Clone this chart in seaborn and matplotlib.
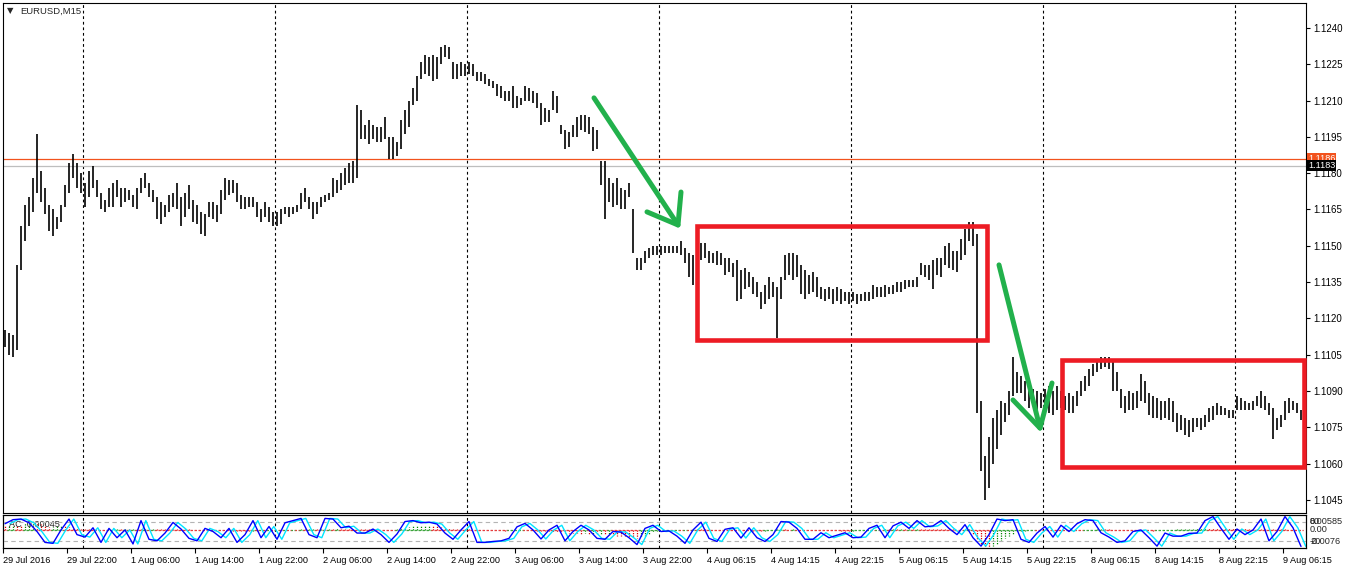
import numpy as np
import pandas as pd
import matplotlib
matplotlib.use('Agg')
import matplotlib.pyplot as plt
from matplotlib.patches import Rectangle
import seaborn as sns

# EURUSD bars, pips above 1.1000 (one bar drawn per 30 min)
bar_high = [115, 114, 113, 142, 158, 167, 170, 178, 196, 181,
            174, 167, 165, 162, 167, 175, 184, 188, 184, 180,
            176, 181, 183, 177, 172, 169, 174, 176, 177, 174,
            174, 173, 171, 174, 178, 180, 176, 173, 170, 168,
            167, 171, 172, 176, 170, 172, 175, 169, 167, 164,
            163, 168, 168, 167, 173, 178, 177, 177, 176, 171,
            170, 170, 170, 168, 165, 168, 166, 164, 164, 165,
            166, 166, 166, 167, 172, 174, 170, 168, 168, 170,
            171, 172, 178, 177, 180, 182, 184, 185, 208, 206,
            200, 202, 200, 199, 199, 203, 195, 195, 193, 202,
            206, 210, 215, 220, 226, 229, 228, 229, 228, 232,
            233, 232, 226, 225, 226, 225, 226, 225, 222, 222,
            221, 219, 218, 217, 216, 214, 214, 216, 212, 211,
            216, 215, 214, 213, 209, 207, 206, 214, 212, 200,
            198, 197, 200, 203, 204, 204, 203, 199, 198, 185,
            185, 178, 176, 178, 174, 173, 176, 165, 145, 145,
            148, 149, 150, 150, 150, 150, 150, 150, 150, 152,
            149, 147, 146, 149, 151, 151, 148, 147, 148, 147,
            145, 145, 143, 144, 140, 141, 139, 137, 135, 131,
            134, 137, 135, 133, 137, 146, 147, 147, 146, 142,
            140, 138, 139, 137, 133, 132, 133, 132, 133, 132,
            131, 131, 131, 130, 130, 131, 131, 134, 133, 133,
            134, 133, 134, 135, 135, 136, 136, 136, 137, 143,
            142, 142, 144, 145, 145, 150, 151, 148, 148, 153,
            157, 160, 160, 155, 86, 63, 71, 79, 82, 86,
            85, 90, 104, 98, 96, 94, 92, 91, 90, 89,
            91, 92, 90, 92, 90, 88, 89, 88, 90, 94,
            96, 99, 101, 102, 104, 104, 104, 102, 98, 91,
            88, 90, 89, 90, 97, 94, 89, 88, 87, 86,
            86, 87, 86, 81, 80, 79, 78, 79, 79, 79,
            80, 83, 84, 85, 84, 83, 82, 82, 88, 87,
            86, 85, 86, 88, 90, 88, 85, 83, 79, 80,
            86, 87, 86, 85, 82]
bar_low = [108, 105, 104, 107, 140, 152, 158, 164, 172, 168,
           163, 156, 154, 157, 160, 166, 172, 178, 174, 172,
           166, 170, 174, 170, 165, 164, 166, 166, 170, 166,
           168, 169, 166, 165, 172, 174, 170, 168, 161, 159,
           162, 164, 166, 165, 158, 162, 165, 160, 159, 155,
           154, 162, 161, 160, 163, 169, 171, 172, 168, 165,
           165, 166, 166, 162, 160, 162, 160, 158, 158, 159,
           163, 162, 163, 164, 165, 168, 165, 161, 163, 166,
           168, 169, 170, 172, 173, 175, 176, 176, 178, 194,
           194, 192, 194, 193, 193, 194, 186, 186, 187, 190,
           196, 199, 208, 210, 219, 221, 220, 218, 219, 225,
           228, 227, 219, 219, 220, 220, 221, 220, 218, 218,
           217, 216, 215, 212, 211, 210, 210, 207, 207, 208,
           210, 210, 209, 207, 200, 201, 201, 206, 205, 196,
           190, 191, 195, 195, 198, 197, 196, 189, 190, 175,
           161, 168, 166, 167, 165, 165, 170, 147, 140, 140,
           143, 145, 146, 146, 146, 147, 147, 147, 147, 146,
           143, 137, 134, 143, 144, 145, 143, 143, 142, 142,
           138, 139, 137, 127, 128, 132, 133, 130, 129, 124,
           126, 128, 129, 112, 128, 136, 138, 136, 137, 130,
           128, 130, 131, 129, 128, 127, 128, 126, 127, 126,
           127, 126, 127, 126, 127, 127, 127, 128, 129, 129,
           129, 130, 130, 131, 131, 132, 133, 133, 133, 138,
           137, 136, 132, 138, 137, 142, 141, 140, 139, 144,
           146, 152, 150, 81, 57, 45, 50, 60, 66, 72,
           77, 80, 88, 89, 89, 86, 83, 84, 82, 83,
           82, 81, 80, 82, 83, 82, 81, 81, 84, 88,
           90, 92, 96, 98, 99, 100, 99, 90, 90, 83,
           81, 82, 82, 83, 86, 85, 80, 79, 79, 78,
           79, 78, 77, 73, 74, 72, 71, 73, 75, 74,
           75, 77, 78, 80, 80, 80, 79, 79, 82, 82,
           82, 82, 82, 84, 83, 82, 80, 70, 74, 75,
           78, 81, 82, 81, 78]

# stochastic main line, one value every 2 bars
stoch = [75, 88, 90, 78, 50, 15, 12, 55, 90, 40, 32, 62, 15, 60, 30, 55, 10, 85, 25, 20,
         45, 79, 58, 28, 20, 60, 50, 30, 60, 15, 40, 85, 30, 66, 25, 78, 85, 92, 40, 30,
         92, 90, 62, 67, 45, 45, 58, 40, 15, 42, 82, 85, 78, 80, 74, 45, 25, 55, 82, 15,
         15, 18, 20, 28, 65, 76, 55, 26, 55, 70, 20, 50, 70, 55, 28, 25, 50, 48, 30, 8,
         60, 70, 50, 52, 35, 12, 55, 80, 28, 18, 57, 62, 29, 62, 30, 18, 40, 82, 80, 60,
         25, 25, 46, 30, 38, 46, 30, 32, 60, 70, 30, 68, 80, 60, 85, 65, 68, 85, 60, 40,
         72, 30, 3, 40, 90, 85, 88, 25, 15, 45, 66, 32, 70, 50, 75, 88, 85, 46, 32, 15,
         20, 50, 55, 30, 3, 45, 35, 35, 44, 45, 85, 98, 60, 25, 58, 40, 55, 90, 20, 50,
         98, 62, 2]

# accelerator histogram, units of 0.0001, one value per bar
ac = [20, 24, 26, 24, 22, 35, 48, 50, 44, 30, 20, 14, 16, 20, 24, 22, 16, 10,
      8, 6, 5, 4, 3, 2, 1,
      1, 2, 2, 3, 3, 4, 4, 5, 5, 5, 6, 6, 7, 7, 7,
      6, 5, 5, 4, 4, 3, 3, 2, 2, 1, 1, 0, 0, -1, -1, -2, -2, -3, -3, -4, -4,
      -4, -3, -3, -2, -2, -1, -1, 0, 0, 1, 1, 2, 2, 3, 3, 4,
      5, 5, 6, 6, 7, 7, 8,
      7, 7, 6, 6, 5, 5, 4, 4, 3, 3, 2, 2, 1, 1,
      4, 8, 12, 16, 20, 22, 24, 25, 26,
      22, 18, 14, 10, 8,
      7, 6, 5, 4, 3, 2, 1,
      0, 0, -1, -1, -2, -2, -3,
      -2, -1, 0, 1,
      0, -1, -2, -3, -4, -5, -6,
      -8, -10, -12, -13, -14, -15,
      -16, -18, -17, -20, -19, -22, -21, -24, -23, -26,
      -28, -30, -32, -34, -36, -38, -35,
      -28, -20, -12, -6, -2,
      -1, 0, 0, 1, 1, 2, 2, 3,
      3, 3, 3, 3,
      2, 2, 1, 1, 0, 0, -1, -1, -2, -2, -3, -3, -4,
      -3, -2, -1,
      3, 4, 3, 2, 3, 2, 1, 1,
      0, 0, 0, 0,
      -1, -1, -2, -2, -3, -3, -4,
      -3, -2, -1, 0, 1,
      1, 2, 2, 3, 3, 4, 4, 5, 5, 6, 6, 7, 7,
      6, 6, 5, 5, 4, 4, 3, 3, 2, 1,
      2, 3,
      -20, -50, -75, -85, -88,
      -80, -68, -55, -42, -30, -18, -8,
      -5, -3, -2, -1,
      -1, -1, -1, -1, -1, -1, -1, -1, -1, -1, -1, -1,
      0, 1, 2, 3, 4,
      3, 3, 2, 2, 1, 1, 0, 0, -1, -1, -2, -2, -3,
      -2, -1, 0, 1, 2, 3, 4, 5, 6, 7, 8, 9, 10,
      10, 10, 10, 10, 10, 10,
      9, 9, 8, 8, 7, 7, 6, 6, 5, 5, 4, 4, 3, 3, 2, 2, 1, 1]

time_labels = ['29 Jul 2016', '29 Jul 22:00', '1 Aug 06:00', '1 Aug 14:00', '1 Aug 22:00',
               '2 Aug 06:00', '2 Aug 14:00', '2 Aug 22:00', '3 Aug 06:00', '3 Aug 14:00',
               '3 Aug 22:00', '4 Aug 06:15', '4 Aug 14:15', '4 Aug 22:15', '5 Aug 06:15',
               '5 Aug 14:15', '5 Aug 22:15', '8 Aug 06:15', '8 Aug 14:15', '8 Aug 22:15',
               '9 Aug 06:15']
price_ticks = [1.1045, 1.1060, 1.1075, 1.1090, 1.1105, 1.1120, 1.1135,
               1.1150, 1.1165, 1.1180, 1.1195, 1.1210, 1.1225, 1.1240]
ask_price = 1.1186
line_price = 1.1183

# hand drawn marks (bar index, price)
boxes = [(173.1, 1.1111, 245.6, 1.1158), (264.3, 1.10586, 324.8, 1.11028)]
arrows = [[(147.25, 1.12111), (168.25, 1.11586), (160.5, 1.11640), (168.25, 1.11586), (169.0, 1.11722)],
          [(248.5, 1.11421), (258.75, 1.10747), (252.0, 1.10863), (258.75, 1.10747), (261.75, 1.10933)]]

sns.set_theme(style='white')
plt.rcParams['font.family'] = ['Liberation Sans', 'DejaVu Sans']
plt.rcParams['axes.edgecolor'] = 'black'
plt.rcParams['axes.linewidth'] = 0.8

W, H = 1346, 569
fig = plt.figure(figsize=(W / 100, H / 100), dpi=100)
fig.patch.set_facecolor('white')
ax = fig.add_axes([3 / W, (H - 513) / H, 1303 / W, 510 / H])
ax_ind = fig.add_axes([3 / W, (H - 548) / H, 1303 / W, 33 / H], sharex=ax)

bars = pd.DataFrame({'high': 1.1 + np.array(bar_high) / 10000,
                     'low': 1.1 + np.array(bar_low) / 10000})
bars['idx'] = np.arange(len(bars))
xmin = -0.5
xmax = xmin + 1303 / 4
day_sep = [19.5 + 48 * k for k in range(7)]

# main price panel
ax.vlines(bars['idx'], bars['low'], bars['high'], colors='black', linewidth=1.2)
for x in day_sep:
    ax.axvline(x, color='black', lw=0.8, ls=(0, (2.5, 2.5)), zorder=1)
ax.axhline(ask_price, color='#F2521D', lw=0.9, zorder=1)
ax.axhline(line_price, color='#BEBEBE', lw=0.9, zorder=1)
for x0, y0, x1, y1 in boxes:
    ax.add_patch(Rectangle((x0, y0), x1 - x0, y1 - y0, fill=False, edgecolor='#ED1C24',
                           lw=3.3, joinstyle='miter', clip_on=False, zorder=4))
for pts in arrows:
    xs, ys = zip(*pts)
    ax.plot(xs[:2], ys[:2], color='#22B14C', lw=3.6, solid_capstyle='round', zorder=5)
    ax.plot(xs[2:], ys[2:], color='#22B14C', lw=3.6, solid_capstyle='round',
            solid_joinstyle='round', zorder=5)
ax.set_xlim(xmin, xmax)
ax.set_ylim(1.10396, 1.12503)
ax.yaxis.tick_right()
ax.set_yticks(price_ticks)
ax.set_yticklabels(['%.4f' % p for p in price_ticks])
ax.tick_params(axis='y', right=True, length=3, width=0.8, pad=2.5, labelsize=7,
               colors='black', direction='out')
ax.tick_params(axis='x', bottom=False, labelbottom=False)
ax.text(1.0015, ask_price, '%.4f' % ask_price, transform=ax.get_yaxis_transform(),
        ha='left', va='center', fontsize=6.6, color='white', zorder=6,
        bbox=dict(boxstyle='square,pad=0.1', fc='#F2521D', ec='none'), clip_on=False)
ax.text(1.0015, line_price, '%.4f' % line_price, transform=ax.get_yaxis_transform(),
        ha='left', va='center', fontsize=6.6, color='white', zorder=7,
        bbox=dict(boxstyle='square,pad=0.1', fc='black', ec='none'), clip_on=False)
ax.text(4 / 1303, 1 - 8 / 510, '\u25bc', transform=ax.transAxes, fontsize=6,
        family='DejaVu Sans', ha='left', va='center')
ax.text(17 / 1303, 1 - 8 / 510, 'EURUSD,M15', transform=ax.transAxes, fontsize=6.8,
        ha='left', va='center')
for s in ax.spines.values():
    s.set_color('black')

# indicator panel: accelerator histogram + stochastic
ac_idx = np.arange(len(ac))
ac_col = ['#008800' if i > 0 and ac[i] > ac[i - 1] else '#DD0000' for i in ac_idx]
ax_ind.vlines(ac_idx, 0, ac, colors=ac_col, linewidth=0.9, linestyles=(0, (1, 1)))
ax_ind.hlines(np.zeros(len(ac)), ac_idx - 0.5, ac_idx + 0.5, colors=ac_col,
              linewidth=0.9, linestyles=(0, (1, 1.5)))
ax_ind.set_ylim(-90, 75)
ax_ind.set_yticks([])
for x in day_sep:
    ax_ind.axvline(x, color='black', lw=0.8, ls=(0, (2.5, 2.5)), zorder=1)

ax_st = ax_ind.twinx()
st = pd.DataFrame({'idx': np.arange(len(stoch)) * 2, 'value': stoch})
sns.lineplot(x=st['idx'] + 1.2, y=st['value'], ax=ax_st, color='#00E5FF', lw=1.0)
sns.lineplot(x=st['idx'], y=st['value'], ax=ax_st, color='#0000FF', lw=1.0)
ax_st.axhline(80, color='#B4B4B4', lw=0.8, ls=(0, (4, 3)), zorder=0)
ax_st.axhline(20, color='#B4B4B4', lw=0.8, ls=(0, (4, 3)), zorder=0)
ax_st.set_ylim(-3, 103)
ax_st.set_yticks([])
ax_st.set_ylabel('')
ax_st.set_xlabel('')
ax_st.set_xlim(xmin, xmax)

ax_ind.set_xticks(np.arange(len(time_labels)) * 16 + xmin)
ax_ind.set_xticklabels(time_labels, ha='left')
ax_ind.tick_params(axis='x', bottom=True, length=3.5, width=0.8, pad=2, labelsize=6.6,
                   colors='black', direction='out')
ax_ind.set_xlim(xmin, xmax)
for s in list(ax_ind.spines.values()) + list(ax_st.spines.values()):
    s.set_color('black')

tr = ax_ind.transAxes
ax_ind.text(6 / 1303, 0.72, 'AC  0.00045', transform=tr, fontsize=6.6, ha='left', va='center')
# MT4 prints the two indicator scales on top of each other
for txt, yy in [('80', 522), ('0.00585', 522), ('0.00', 530), ('20', 541), ('-0.0076', 541)]:
    ax_ind.text(1 + 4 / 1303, (548 - yy) / 33, txt, transform=tr, fontsize=6.6,
                ha='left', va='center', clip_on=False)

fig.savefig('out.png', dpi=100, facecolor='white')
